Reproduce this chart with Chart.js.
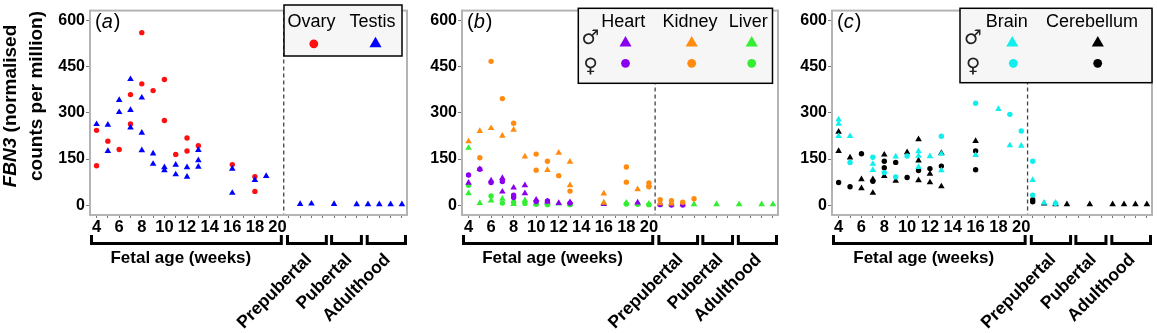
<!DOCTYPE html>
<html>
<head>
<meta charset="utf-8">
<script src="https://cdn.jsdelivr.net/npm/chart.js@4.4.1/dist/chart.umd.min.js"></script>
<style>
  body { margin: 0; background: #fff; width: 1157px; height: 333px; position: relative; overflow: hidden; }
  canvas { position: absolute; top: 0; }
</style>
</head>
<body>
<canvas id="chartA" width="412" height="333" style="left:0px"></canvas>
<canvas id="chartB" width="370" height="333" style="left:412px"></canvas>
<canvas id="chartC" width="375" height="333" style="left:782px"></canvas>
<script>
// x = fetal age in weeks (4-20); postnatal samples sit in the slots 21-31 after the dashed line
// y = FBN3 normalised counts per million

// panel (a) gonads
const ovary = [[4,243],[4,128],[5,208],[6,181],[7,359],[7,264],[8,560],[8,394],[9,372],[10,408],[10,275],
  [11,165],[12,218],[12,176],[13,193],[16,132],[18,93],[18,45]];
const testis = [[4,263],[5,261],[5,176],[6,341],[6,302],[7,409],[7,309],[7,252],[8,349],[8,235],[8,178],
  [9,168],[9,134],[10,123],[10,113],[11,131],[11,100],[12,123],[12,92],[13,179],[13,146],[13,125],
  [16,118],[16,40],[18,82],[19,95],[22,4],[23,5],[25,4],[27,3],[28,3],[29,3],[30,3],[31,3]];

// panel (b) heart, kidney, liver (M = male triangles, F = female circles)
const heartM = [[4,73],[5,117],[6,80],[7,88],[7,44],[8,57],[9,65],[9,39],[10,18],[11,12],[12,7],[13,10],[16,4],[19,9]];
const heartF = [[4,98],[5,117],[6,74],[7,77],[8,33],[8,25],[10,12],[11,14],[13,7],[21,2],[22,1],[23,1]];
const kidneyM = [[4,207],[5,241],[6,250],[7,225],[8,245],[9,158],[11,114],[12,170],[13,141],[13,65],[16,38],
  [16,8],[19,52],[20,66],[21,6],[22,5]];
const kidneyF = [[5,154],[6,467],[7,346],[8,266],[10,166],[10,114],[11,143],[12,96],[13,46],[18,124],[18,75],
  [20,72],[20,60],[21,18],[22,15],[23,10],[24,21]];
const liverM = [[4,186],[4,39],[5,7],[6,15],[7,21],[8,4],[9,16],[10,5],[11,6],[12,5],[13,4],[16,8],[18,8],[19,5],
  [20,5],[21,3],[22,3],[23,3],[24,3],[26,3],[28,3],[30,3],[31,3]];
const liverF = [[4,65],[6,30],[7,7],[8,10],[9,6],[10,3],[11,2],[13,2],[18,4],[19,3],[20,2]];

// panel (c) brain, cerebellum
const brainM = [[4,278],[4,264],[4,224],[5,224],[7,134],[7,114],[9,158],[11,175],[11,160],[11,124],[12,159],
  [13,167],[13,113],[16,163],[18,312],[19,194],[20,193],[21,82],[22,8],[23,8]];
const brainF = [[5,139],[7,156],[8,106],[9,92],[10,160],[13,224],[16,331],[19,295],[20,241],[21,143],[21,33],[23,6]];
const cerebM = [[4,238],[4,176],[5,155],[6,84],[6,55],[7,84],[7,40],[8,164],[8,95],[9,79],[10,172],[11,214],
  [11,145],[11,81],[12,102],[12,74],[13,169],[13,61],[16,208],[22,5],[23,3],[24,3],[26,3],[28,3],[29,3],[30,3],[31,3]];
const cerebF = [[4,74],[5,60],[6,167],[7,78],[8,143],[8,122],[9,139],[10,90],[11,113],[12,119],[13,127],
  [16,176],[16,115],[21,18],[21,11]];

// axes
const xTickValues = [4,5,6,7,8,9,10,11,12,13,14,15,16,17,18,19,20,21,22,23,24,25,26,27,28,29,30,31];
const xTickLabels = [4,6,8,10,12,14,16,18,20];
const yTickValues = [0,150,300,450,600];
const stageNames = ['Fetal age (weeks)', 'Prepubertal', 'Pubertal', 'Adulthood'];

const FONT = '"Liberation Sans", Arial, Helvetica, sans-serif';
const NARROW = '"Liberation Sans Narrow", "Arial Narrow", ' + FONT;
const SYMBOL = '"DejaVu Sans", sans-serif';

const RED = '#ff1010', BLUE = '#0000ff', PURPLE = '#8a00ee', ORANGE = '#ff8c10',
      GREEN = '#33ee33', CYAN = '#10eeee', BLACK = '#000000';

const X_MIN = 3.42, X_MAX = 31.45, SPLIT = 20.55;
const stageSpan = [[X_MIN, 20.47], [20.75, 24.45], [24.65, 27.55], [27.8, X_MAX]];
const stageEnd = [11.45, 23.05, 26.6, 30.0];

function tri(ctx, x, y, r) {
  ctx.beginPath();
  ctx.moveTo(x, y - r);
  ctx.lineTo(x + r * 0.866, y + r / 2);
  ctx.lineTo(x - r * 0.866, y + r / 2);
  ctx.closePath();
  ctx.fill();
}

function dot(ctx, x, y, r) {
  ctx.beginPath();
  ctx.arc(x, y, r, 0, Math.PI * 2);
  ctx.fill();
}

const decor = {
  id: 'decor',
  beforeDatasetsDraw(chart) {
    const { ctx, chartArea: a, scales: { x } } = chart;
    const dx = x.getPixelForValue(SPLIT);
    ctx.save();
    ctx.setLineDash([4, 3]);
    ctx.strokeStyle = '#444';
    ctx.lineWidth = 1.3;
    ctx.beginPath();
    ctx.moveTo(dx, a.top);
    ctx.lineTo(dx, a.bottom);
    ctx.stroke();
    ctx.restore();
  },
  afterDraw(chart, args, o) {
    const { ctx, chartArea: a, scales: { x } } = chart;
    ctx.save();

    // frame
    ctx.strokeStyle = '#b4b4b4';
    ctx.lineWidth = 2;
    ctx.strokeRect(a.left, a.top, a.right - a.left, a.bottom - a.top);

    // stage brackets
    ctx.strokeStyle = '#000';
    ctx.lineWidth = 3;
    ctx.lineJoin = 'miter';
    stageSpan.forEach(([f, t]) => {
      const x1 = Math.max(a.left, x.getPixelForValue(f)) + 1.5;
      const x2 = Math.min(a.right, x.getPixelForValue(t)) - 1.5;
      ctx.beginPath();
      ctx.moveTo(x1, 235);
      ctx.lineTo(x1, 243.5);
      ctx.lineTo(x2, 243.5);
      ctx.lineTo(x2, 235);
      ctx.stroke();
    });

    ctx.fillStyle = '#000';
    ctx.font = 'bold 17px ' + FONT;
    ctx.textAlign = 'center';
    ctx.textBaseline = 'middle';
    ctx.fillText(stageNames[0], x.getPixelForValue(stageEnd[0]), 258);
    ctx.textAlign = 'right';
    ctx.font = 'bold 17.5px ' + FONT;
    for (let i = 1; i < 4; i++) {
      ctx.save();
      ctx.translate(x.getPixelForValue(stageEnd[i]) - 3, 257);
      ctx.rotate(-Math.PI / 4);
      ctx.fillText(stageNames[i], 0, 0);
      ctx.restore();
    }

    // panel letter
    ctx.textAlign = 'left';
    ctx.textBaseline = 'alphabetic';
    let lx = a.left + 5;
    ctx.font = '20px ' + FONT;
    ctx.fillText('(', lx, 28);
    lx += ctx.measureText('(').width;
    ctx.font = 'italic 20px ' + FONT;
    ctx.fillText(o.letter, lx, 28);
    lx += ctx.measureText(o.letter).width + 1;
    ctx.font = '20px ' + FONT;
    ctx.fillText(')', lx, 28);

    // legend
    const L = o.legend;
    const [bx1, by1, bx2, by2] = L.box;
    ctx.fillStyle = '#f6f6f6';
    ctx.fillRect(bx1, by1, bx2 - bx1, by2 - by1);
    ctx.strokeStyle = '#000';
    ctx.lineWidth = 1.5;
    ctx.strokeRect(bx1, by1, bx2 - bx1, by2 - by1);
    ctx.fillStyle = '#000';
    ctx.font = '18px ' + FONT;
    ctx.textAlign = 'center';
    L.names.forEach(([t, cx]) => ctx.fillText(t, cx, 26.5));
    L.marks.forEach(([shape, col, mx, my]) => {
      ctx.fillStyle = col;
      if (shape === 'triangle') tri(ctx, mx, my, 7); else dot(ctx, mx, my, 4.4);
    });
    if (L.sexes) {
      ctx.fillStyle = '#222';
      ctx.font = '20px ' + SYMBOL;
      ctx.textBaseline = 'middle';
      ctx.fillText('\u2642', L.sexes, 39);
      ctx.fillText('\u2640', L.sexes, 67);
    }

    // y-axis title (panel a only)
    if (o.ytitle) {
      ctx.fillStyle = '#000';
      ctx.textBaseline = 'middle';
      ctx.textAlign = 'left';
      const lines = [
        { cx: 11, cy: 106, parts: [['FBN3', 'italic bold 19px '], [' (normalised', 'bold 19px ']] },
        { cx: 37, cy: 96, parts: [['counts per million)', 'bold 19px ']] }
      ];
      lines.forEach(line => {
        let w = 0;
        line.parts.forEach(([t, f]) => { ctx.font = f + FONT; w += ctx.measureText(t).width; });
        ctx.save();
        ctx.translate(line.cx, line.cy);
        ctx.rotate(-Math.PI / 2);
        let px = -w / 2;
        line.parts.forEach(([t, f]) => {
          ctx.font = f + FONT;
          ctx.fillText(t, px, 0);
          px += ctx.measureText(t).width;
        });
        ctx.restore();
      });
    }
    ctx.restore();
  }
};

function series(label, pts, color, shape) {
  return {
    label,
    data: pts.map(p => ({ x: p[0], y: p[1] })),
    pointStyle: shape,
    pointRadius: shape === 'circle' ? 2.7 : 3.8,
    backgroundColor: color,
    borderWidth: 0,
    pointBorderWidth: 0
  };
}

function makeChart(id, datasets, axisWidth, padRight, decorOpts) {
  return new Chart(document.getElementById(id), {
    type: 'scatter',
    data: { datasets },
    options: {
      responsive: false,
      animation: false,
      devicePixelRatio: 1,
      layout: { padding: { top: 5, right: padRight, left: 0, bottom: 0 } },
      plugins: { legend: { display: false }, tooltip: { enabled: false }, decor: decorOpts },
      scales: {
        x: {
          type: 'linear',
          min: X_MIN,
          max: X_MAX,
          afterBuildTicks: s => { s.ticks = xTickValues.map(v => ({ value: v })); },
          afterFit: s => { s.height = 118; },
          border: { display: false },
          grid: { drawOnChartArea: false, tickLength: 3, color: '#777', lineWidth: 1 },
          ticks: {
            autoSkip: false, maxRotation: 0, minRotation: 0, padding: 1, color: '#000',
            font: { family: NARROW, size: 16.5, weight: 'bold', lineHeight: 1 },
            callback: v => xTickLabels.includes(v) ? String(v) : ''
          }
        },
        y: {
          min: -31.6,
          max: 631.6,
          afterBuildTicks: s => { s.ticks = yTickValues.map(v => ({ value: v })); },
          afterFit: s => { s.width = axisWidth; },
          border: { display: false },
          grid: { drawOnChartArea: false, tickLength: 4, color: '#777', lineWidth: 1 },
          ticks: {
            padding: 1, color: '#000',
            font: { family: FONT, size: 16, weight: 'bold' },
            callback: v => String(v)
          }
        }
      }
    },
    plugins: [decor]
  });
}

makeChart('chartA', [
  series('Testis', testis, BLUE, 'triangle'),
  series('Ovary', ovary, RED, 'circle')
], 90, 5, {
  letter: 'a', ytitle: true,
  legend: {
    box: [284, 5, 402, 56],
    names: [['Ovary', 311.5], ['Testis', 372.5]],
    marks: [['circle', RED, 313.8, 43.8], ['triangle', BLUE, 375.5, 43.7]],
    sexes: null
  }
});

makeChart('chartB', [
  series('Kidney male', kidneyM, ORANGE, 'triangle'),
  series('Kidney female', kidneyF, ORANGE, 'circle'),
  series('Heart male', heartM, PURPLE, 'triangle'),
  series('Heart female', heartF, PURPLE, 'circle'),
  series('Liver male', liverM, GREEN, 'triangle'),
  series('Liver female', liverF, GREEN, 'circle')
], 50, 4, {
  letter: 'b',
  legend: {
    box: [166.3, 8.3, 360.5, 83.3],
    names: [['Heart', 211.3], ['Kidney', 278], ['Liver', 336.3]],
    marks: [['triangle', PURPLE, 213.5, 43], ['triangle', ORANGE, 279.7, 43], ['triangle', GREEN, 339.7, 43],
            ['circle', PURPLE, 213.5, 63.3], ['circle', ORANGE, 279.7, 63.3], ['circle', GREEN, 339.7, 63.3]],
    sexes: 178.5
  }
});

makeChart('chartC', [
  series('Brain male', brainM, CYAN, 'triangle'),
  series('Brain female', brainF, CYAN, 'circle'),
  series('Cerebellum male', cerebM, BLACK, 'triangle'),
  series('Cerebellum female', cerebF, BLACK, 'circle')
], 50, 5, {
  letter: 'c',
  legend: {
    box: [178, 8.3, 370, 82.7],
    names: [['Brain', 224.7], ['Cerebellum', 310]],
    marks: [['triangle', CYAN, 230.3, 43], ['triangle', BLACK, 315.8, 43],
            ['circle', CYAN, 231.3, 63.3], ['circle', BLACK, 315.7, 63.3]],
    sexes: 191
  }
});
</script>
</body>
</html>
